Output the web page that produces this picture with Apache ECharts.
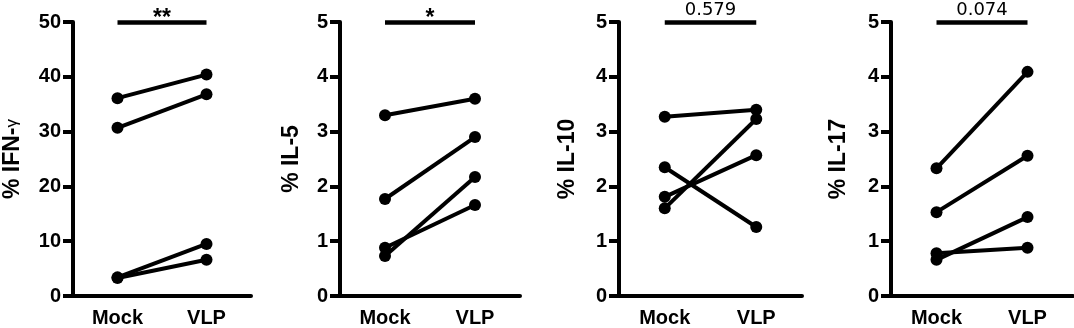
<!DOCTYPE html>
<html>
<head>
<meta charset="utf-8">
<script src="https://cdn.jsdelivr.net/npm/echarts@6/dist/echarts.min.js"></script>
<style>
  html, body { margin: 0; padding: 0; background: #fff; }
  #main { width: 1074px; height: 328px; }
</style>
</head>
<body>
<div id="main"></div>
<script>
// categories
const groups = ['Mock', 'VLP'];

// paired values per donor (Mock -> VLP)
const ifngMock = [36.1, 30.7, 3.4, 3.3];
const ifngVlp = [40.4, 36.8, 9.5, 6.6];
const il5Mock = [3.30, 1.77, 0.73, 0.88];
const il5Vlp = [3.60, 2.90, 2.17, 1.66];
const il10Mock = [3.27, 2.35, 1.60, 1.81];
const il10Vlp = [3.40, 1.26, 3.23, 2.57];
const il17Mock = [2.33, 1.53, 0.66, 0.78];
const il17Vlp = [4.09, 2.56, 1.44, 0.88];

// axis titles, significance labels, scale
const yTitles = ['% IFN-{g|γ}', '% IL-5', '% IL-10', '% IL-17'];
const pLabels = ['**', '*', '0.579', '0.074'];
const yMax = [50, 5, 5, 5];
const yStep = [10, 1, 1, 1];

const mockSets = [ifngMock, il5Mock, il10Mock, il17Mock];
const vlpSets = [ifngVlp, il5Vlp, il10Vlp, il17Vlp];

const font = 'Liberation Sans, Arial, sans-serif'
const gridLeft = [70, 340, 619, 891]
const gridWidth = [181, 180, 183, 182]
const nameGaps = [49, 37, 40, 41]

const chart = echarts.init(document.getElementById('main'))

const grids = []
const xAxes = []
const yAxes = []
const series = []

for (let p = 0; p < 4; p++) {
  grids.push({ left: gridLeft[p], top: 22, width: gridWidth[p], height: 275 })
  xAxes.push({
    type: 'category',
    gridIndex: p,
    data: groups,
    boundaryGap: true,
    axisLine: { lineStyle: { color: '#000', width: 4 } },
    axisTick: { alignWithLabel: true, length: 9, lineStyle: { color: '#000', width: 4 } },
    axisLabel: { color: '#000', fontSize: 20, fontWeight: 'bold', fontFamily: font, margin: 12 },
    splitLine: { show: false }
  })
  yAxes.push({
    type: 'value',
    gridIndex: p,
    min: 0,
    max: yMax[p],
    interval: yStep[p],
    name: yTitles[p],
    nameLocation: 'middle',
    nameGap: nameGaps[p],
    nameTextStyle: {
      color: '#000', fontSize: 23, fontWeight: 'bold', fontFamily: font,
      rich: { g: { fontSize: 17, fontWeight: 'normal', fontFamily: font, color: '#000' } }
    },
    axisLine: { show: true, lineStyle: { color: '#000', width: 4 } },
    axisTick: { show: true, length: 10, lineStyle: { color: '#000', width: 4 } },
    axisLabel: { color: '#000', fontSize: 20, fontWeight: 'bold', fontFamily: font, margin: 12 },
    splitLine: { show: false }
  })
  const mock = mockSets[p]
  const vlp = vlpSets[p]
  mock.forEach((m, i) => {
    const s = {
      type: 'line',
      xAxisIndex: p,
      yAxisIndex: p,
      data: [m, vlp[i]],
      symbol: 'circle',
      symbolSize: 12,
      lineStyle: { color: '#000', width: 4 },
      itemStyle: { color: '#000' },
      animation: false,
      silent: true
    }
    // 显著性横线
    if (i === 0) {
      const isStar = pLabels[p].indexOf('*') >= 0
      s.markLine = {
        silent: true,
        symbol: 'none',
        animation: false,
        lineStyle: { color: '#000', width: 4.5, type: 'solid' },
        label: {
          show: true,
          position: 'middle',
          formatter: pLabels[p],
          color: '#000',
          fontSize: isStar ? 23 : 18,
          fontWeight: isStar ? 'bold' : 'normal',
          fontFamily: isStar ? font : 'DejaVu Sans, sans-serif',
          distance: isStar ? -8 : 3
        },
        data: [[{ coord: ['Mock', yMax[p]] }, { coord: ['VLP', yMax[p]] }]]
      }
    }
    series.push(s)
  })
}

chart.setOption({
  backgroundColor: '#fff',
  animation: false,
  grid: grids,
  xAxis: xAxes,
  yAxis: yAxes,
  series: series
})
</script>
</body>
</html>
